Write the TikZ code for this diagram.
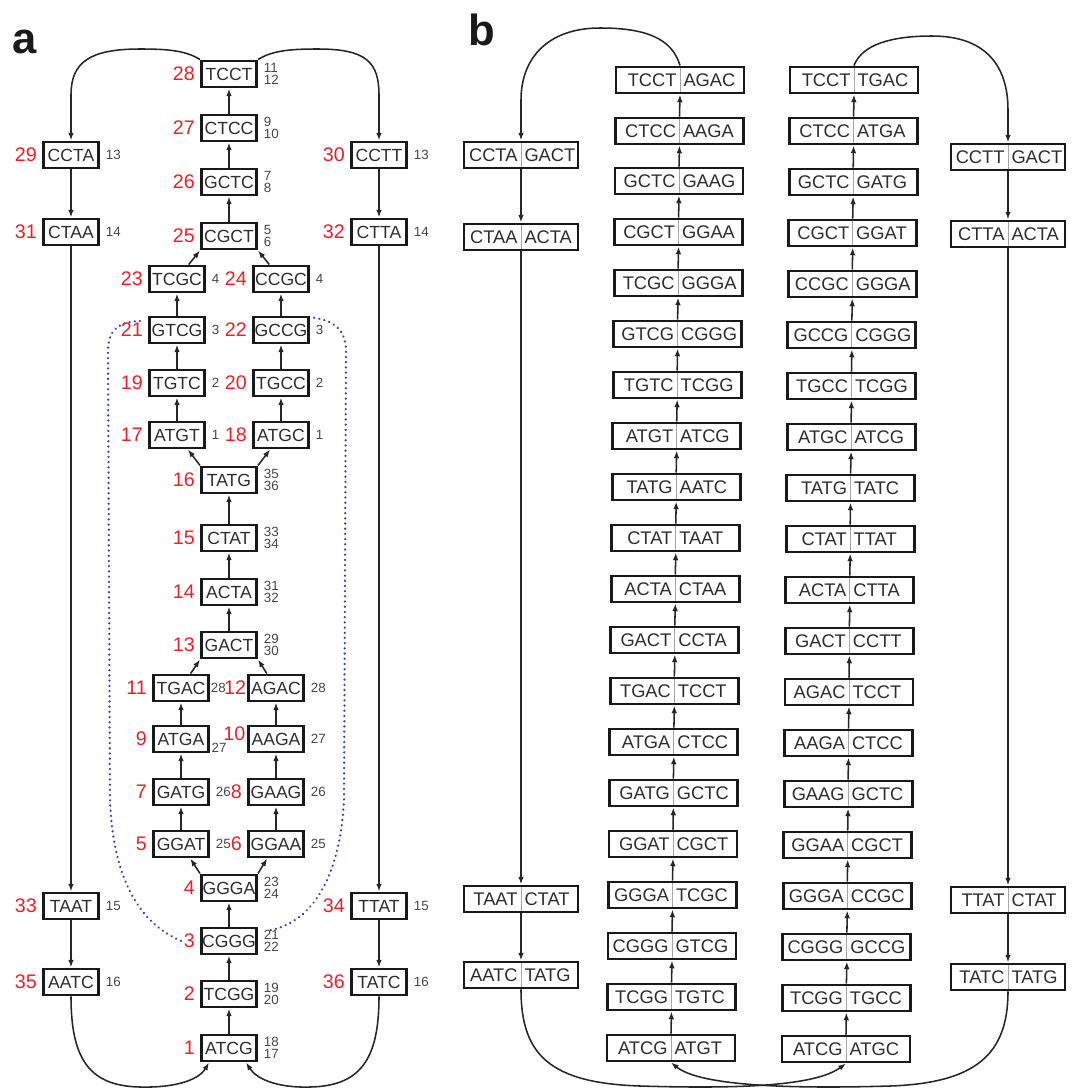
\documentclass[tikz,border=0pt]{standalone}
\usepackage{fontspec}
\setmainfont{Liberation Sans}
\usetikzlibrary{arrows.meta,calc}
\definecolor{numred}{RGB}{236,32,40}
\definecolor{numgray}{RGB}{70,70,70}
\definecolor{dotblue}{RGB}{60,60,190}
\definecolor{boxtext}{RGB}{45,45,45}
\newcommand{\kmer}[2]{\llap{#1\kern2.5pt}\rlap{\kern2.5pt#2}}
\tikzset{
    kbox/.style={rectangle, draw=black!90, line width=2.1pt, fill=white, text=boxtext, minimum width=1.375cm, minimum height=0.65cm, inner sep=0pt, font=\fontsize{12.5}{14}\selectfont},
    pairbox/.style={kbox, font=\fontsize{13}{15}\selectfont, path picture={\draw[gray!70, line width=0.6pt] (path picture bounding box.north) -- (path picture bounding box.south);}},
    link/.style={-{Latex[length=5.5pt,width=4pt]}, line width=1.1pt, black!85},
    rnum/.style={text=numred, font=\fontsize{14}{16}\selectfont, inner sep=3.5pt},
    gnum/.style={text=numgray, font=\fontsize{9.5}{8.5}\selectfont, inner sep=4pt, align=left}
}

\begin{document}
\begin{tikzpicture}[
    x=0.025cm, y=-0.025cm,
    panel/.style={font=\fontsize{31}{31}\selectfont\bfseries, inner sep=0pt, anchor=base west, text=black!90},
    outer/.style={pairbox, minimum width=2.85cm},
    inner/.style={pairbox, minimum width=3.2cm},
    boundary/.style={dotblue, line width=1.7pt, dash pattern=on 0.1pt off 3.6pt, line cap=round}
]
    \useasboundingbox (0,0) rectangle (1073,1088);

    % Panel labels
    \node[panel] (PA) at (12,53) {a};
    \node[panel] (PB) at (468,45) {b};

    % Panel a: bubble region
    \draw[boundary] (140,321) .. controls (118,322) and (108,330) .. (108,352) -- (110,800) .. controls (113,880) and (140,925) .. (184,942);
    \draw[boundary] (309,317) .. controls (335,320) and (346,330) .. (346,352) -- (344,800) .. controls (340,880) and (310,925) .. (266,931);

    % Panel a: central column
    \node[kbox, label={[rnum]left:1}, label={[gnum]right:{18\\17}}] (A1) at (229,1048) {ATCG};
    \node[kbox, label={[rnum]left:2}, label={[gnum]right:{19\\20}}] (A2) at (229,994) {TCGG};
    \node[kbox, label={[rnum]left:3}, label={[gnum]right:{21\\22}}] (A3) at (229,941) {CGGG};
    \node[kbox, label={[rnum]left:4}, label={[gnum]right:{23\\24}}] (A4) at (229,888) {GGGA};
    \node[kbox, label={[rnum]left:13}, label={[gnum]right:{29\\30}}] (A13) at (229,645) {GACT};
    \node[kbox, label={[rnum]left:14}, label={[gnum]right:{31\\32}}] (A14) at (229,592) {ACTA};
    \node[kbox, label={[rnum]left:15}, label={[gnum]right:{33\\34}}] (A15) at (229,538) {CTAT};
    \node[kbox, label={[rnum]left:16}, label={[gnum]right:{35\\36}}] (A16) at (229,480) {TATG};
    \node[kbox, label={[rnum]left:25}, label={[gnum]right:{5\\6}}] (A25) at (229,236) {CGCT};
    \node[kbox, label={[rnum]left:26}, label={[gnum]right:{7\\8}}] (A26) at (229,182) {GCTC};
    \node[kbox, label={[rnum]left:27}, label={[gnum]right:{9\\10}}] (A27) at (229,128) {CTCC};
    \node[kbox, label={[rnum]left:28}, label={[gnum]right:{11\\12}}] (A28) at (229,74) {TCCT};

    % Panel a: lower bubble
    \node[kbox, label={[rnum]left:5}, label={[gnum]right:25}] (A5) at (181,844) {GGAT};
    \node[kbox, label={[rnum]left:6}, label={[gnum]right:25}] (A6) at (276,844) {GGAA};
    \node[kbox, label={[rnum]left:7}, label={[gnum]right:26}] (A7) at (181,792) {GATG};
    \node[kbox, label={[rnum]left:8}, label={[gnum]right:26}] (A8) at (276,792) {GAAG};
    \node[kbox, label={[rnum]left:9}, label={[gnum, inner sep=1pt, yshift=-6pt]right:27}] (A9) at (181,739) {ATGA};
    \node[kbox, label={[rnum, inner sep=1pt, yshift=4pt]left:10}, label={[gnum]right:27}] (A10) at (276,739) {AAGA};
    \node[kbox, label={[rnum]left:11}, label={[gnum, inner sep=0.5pt]right:28}] (A11) at (181,688) {TGAC};
    \node[kbox, label={[rnum, inner sep=0.5pt]left:12}, label={[gnum]right:28}] (A12) at (276,688) {AGAC};

    % Panel a: upper bubble
    \node[kbox, label={[rnum]left:17}, label={[gnum]right:1}] (A17) at (177,435) {ATGT};
    \node[kbox, label={[rnum]left:18}, label={[gnum]right:1}] (A18) at (281,435) {ATGC};
    \node[kbox, label={[rnum]left:19}, label={[gnum]right:2}] (A19) at (177,383) {TGTC};
    \node[kbox, label={[rnum]left:20}, label={[gnum]right:2}] (A20) at (281,383) {TGCC};
    \node[kbox, label={[rnum]left:21}, label={[gnum]right:3}] (A21) at (177,330) {GTCG};
    \node[kbox, label={[rnum]left:22}, label={[gnum]right:3}] (A22) at (281,330) {GCCG};
    \node[kbox, label={[rnum]left:23}, label={[gnum]right:4}] (A23) at (177,279) {TCGC};
    \node[kbox, label={[rnum]left:24}, label={[gnum]right:4}] (A24) at (281,279) {CCGC};

    % Panel a: outer columns
    \node[kbox, label={[rnum]left:29}, label={[gnum]right:13}] (A29) at (71,155) {CCTA};
    \node[kbox, label={[rnum]left:31}, label={[gnum]right:14}] (A31) at (71,232) {CTAA};
    \node[kbox, label={[rnum]left:33}, label={[gnum]right:15}] (A33) at (71,906) {TAAT};
    \node[kbox, label={[rnum]left:35}, label={[gnum]right:16}] (A35) at (71,982) {AATC};
    \node[kbox, label={[rnum]left:30}, label={[gnum]right:13}] (A30) at (379,155) {CCTT};
    \node[kbox, label={[rnum]left:32}, label={[gnum]right:14}] (A32) at (379,232) {CTTA};
    \node[kbox, label={[rnum]left:34}, label={[gnum]right:15}] (A34) at (379,906) {TTAT};
    \node[kbox, label={[rnum]left:36}, label={[gnum]right:16}] (A36) at (379,982) {TATC};

    % Panel a: edges
    \draw[link] (A1) -- (A2);
    \draw[link] (A2) -- (A3);
    \draw[link] (A3) -- (A4);
    \draw[link] (A4.north west) -- (A5);
    \draw[link] (A4.north east) -- (A6);
    \draw[link] (A5) -- (A7);
    \draw[link] (A7) -- (A9);
    \draw[link] (A9) -- (A11);
    \draw[link] (A6) -- (A8);
    \draw[link] (A8) -- (A10);
    \draw[link] (A10) -- (A12);
    \draw[link] (A11) -- (A13.south west);
    \draw[link] (A12) -- (A13.south east);
    \draw[link] (A13) -- (A14);
    \draw[link] (A14) -- (A15);
    \draw[link] (A15) -- (A16);
    \draw[link] (A16.north west) -- (A17);
    \draw[link] (A16.north east) -- (A18);
    \draw[link] (A17) -- (A19);
    \draw[link] (A19) -- (A21);
    \draw[link] (A21) -- (A23);
    \draw[link] (A18) -- (A20);
    \draw[link] (A20) -- (A22);
    \draw[link] (A22) -- (A24);
    \draw[link] (A23) -- (A25.south west);
    \draw[link] (A24) -- (A25.south east);
    \draw[link] (A25) -- (A26);
    \draw[link] (A26) -- (A27);
    \draw[link] (A27) -- (A28);
    \draw[link] (A28.north west) .. controls (185,50) and (165,49) .. (140,49) .. controls (90,49) and (71,62) .. (71,95) -- (A29);
    \draw[link] (A28.north east) .. controls (273,50) and (293,49) .. (318,49) .. controls (366,49) and (379,62) .. (379,95) -- (A30);
    \draw[link] (A29) -- (A31);
    \draw[link] (A31) -- (A33);
    \draw[link] (A33) -- (A35);
    \draw[link] (A30) -- (A32);
    \draw[link] (A32) -- (A34);
    \draw[link] (A34) -- (A36);
    \draw[link] (A35.south) .. controls (71,1060) and (90,1086) .. (140,1087) .. controls (180,1088) and (200,1078) .. ($(A1.south west)+(9,0)$);
    \draw[link] (A36.south) .. controls (379,1060) and (360,1086) .. (310,1087) .. controls (275,1088) and (256,1078) .. ($(A1.south east)+(-12,0)$);

    % Panel b: left inner column
    \node[inner] (L20) at (680,80) {\kmer{TCCT}{AGAC}};
    \node[inner] (L19) at (679.5,131) {\kmer{CTCC}{AAGA}};
    \node[inner] (L18) at (679,181) {\kmer{GCTC}{GAAG}};
    \node[inner] (L17) at (678.6,232) {\kmer{CGCT}{GGAA}};
    \node[inner] (L16) at (678.1,283) {\kmer{TCGC}{GGGA}};
    \node[inner] (L15) at (677.6,334) {\kmer{GTCG}{CGGG}};
    \node[inner] (L14) at (677.2,385) {\kmer{TGTC}{TCGG}};
    \node[inner] (L13) at (676.7,436) {\kmer{ATGT}{ATCG}};
    \node[inner] (L12) at (676.2,487) {\kmer{TATG}{AATC}};
    \node[inner] (L11) at (675.8,538) {\kmer{CTAT}{TAAT}};
    \node[inner] (L10) at (675.3,589) {\kmer{ACTA}{CTAA}};
    \node[inner] (L9) at (674.8,640) {\kmer{GACT}{CCTA}};
    \node[inner] (L8) at (674.4,691) {\kmer{TGAC}{TCCT}};
    \node[inner] (L7) at (673.9,742) {\kmer{ATGA}{CTCC}};
    \node[inner] (L6) at (673.4,793) {\kmer{GATG}{GCTC}};
    \node[inner] (L5) at (673,844) {\kmer{GGAT}{CGCT}};
    \node[inner] (L4) at (672.5,895) {\kmer{GGGA}{TCGC}};
    \node[inner] (L3) at (672,946) {\kmer{CGGG}{GTCG}};
    \node[inner] (L2) at (671.5,997) {\kmer{TCGG}{TGTC}};
    \node[inner] (L1) at (671,1048) {\kmer{ATCG}{ATGT}};

    % Panel b: right inner column
    \node[inner] (R20) at (854,80) {\kmer{TCCT}{TGAC}};
    \node[inner] (R19) at (853.6,131) {\kmer{CTCC}{ATGA}};
    \node[inner] (R18) at (853.2,182) {\kmer{GCTC}{GATG}};
    \node[inner] (R17) at (852.7,233) {\kmer{CGCT}{GGAT}};
    \node[inner] (R16) at (852.3,284) {\kmer{CCGC}{GGGA}};
    \node[inner] (R15) at (851.9,335) {\kmer{GCCG}{CGGG}};
    \node[inner] (R14) at (851.5,386) {\kmer{TGCC}{TCGG}};
    \node[inner] (R13) at (851.1,437) {\kmer{ATGC}{ATCG}};
    \node[inner] (R12) at (850.6,488) {\kmer{TATG}{TATC}};
    \node[inner] (R11) at (850.2,539) {\kmer{CTAT}{TTAT}};
    \node[inner] (R10) at (849.8,590) {\kmer{ACTA}{CTTA}};
    \node[inner] (R9) at (849.4,641) {\kmer{GACT}{CCTT}};
    \node[inner] (R8) at (849,692) {\kmer{AGAC}{TCCT}};
    \node[inner] (R7) at (848.5,743) {\kmer{AAGA}{CTCC}};
    \node[inner] (R6) at (848.1,794) {\kmer{GAAG}{GCTC}};
    \node[inner] (R5) at (847.7,845) {\kmer{GGAA}{CGCT}};
    \node[inner] (R4) at (847.3,896) {\kmer{GGGA}{CCGC}};
    \node[inner] (R3) at (846.9,947) {\kmer{CGGG}{GCCG}};
    \node[inner] (R2) at (846.4,998) {\kmer{TCGG}{TGCC}};
    \node[inner] (R1) at (846,1049) {\kmer{ATCG}{ATGC}};

    % Panel b: outer columns
    \node[outer] (OL1) at (521,155) {\kmer{CCTA}{GACT}};
    \node[outer] (OL2) at (521,237) {\kmer{CTAA}{ACTA}};
    \node[outer] (OL3) at (521,899) {\kmer{TAAT}{CTAT}};
    \node[outer] (OL4) at (521,975) {\kmer{AATC}{TATG}};
    \node[outer] (OR1) at (1008,157) {\kmer{CCTT}{GACT}};
    \node[outer] (OR2) at (1008,234) {\kmer{CTTA}{ACTA}};
    \node[outer] (OR3) at (1008,900) {\kmer{TTAT}{CTAT}};
    \node[outer] (OR4) at (1008,977) {\kmer{TATC}{TATG}};

    % Panel b: edges
    \draw[link] (L1.north) -- (L2.south);
    \draw[link] (L2.north) -- (L3.south);
    \draw[link] (L3.north) -- (L4.south);
    \draw[link] (L4.north) -- (L5.south);
    \draw[link] (L5.north) -- (L6.south);
    \draw[link] (L6.north) -- (L7.south);
    \draw[link] (L7.north) -- (L8.south);
    \draw[link] (L8.north) -- (L9.south);
    \draw[link] (L9.north) -- (L10.south);
    \draw[link] (L10.north) -- (L11.south);
    \draw[link] (L11.north) -- (L12.south);
    \draw[link] (L12.north) -- (L13.south);
    \draw[link] (L13.north) -- (L14.south);
    \draw[link] (L14.north) -- (L15.south);
    \draw[link] (L15.north) -- (L16.south);
    \draw[link] (L16.north) -- (L17.south);
    \draw[link] (L17.north) -- (L18.south);
    \draw[link] (L18.north) -- (L19.south);
    \draw[link] (L19.north) -- (L20.south);
    \draw[link] (R1.north) -- (R2.south);
    \draw[link] (R2.north) -- (R3.south);
    \draw[link] (R3.north) -- (R4.south);
    \draw[link] (R4.north) -- (R5.south);
    \draw[link] (R5.north) -- (R6.south);
    \draw[link] (R6.north) -- (R7.south);
    \draw[link] (R7.north) -- (R8.south);
    \draw[link] (R8.north) -- (R9.south);
    \draw[link] (R9.north) -- (R10.south);
    \draw[link] (R10.north) -- (R11.south);
    \draw[link] (R11.north) -- (R12.south);
    \draw[link] (R12.north) -- (R13.south);
    \draw[link] (R13.north) -- (R14.south);
    \draw[link] (R14.north) -- (R15.south);
    \draw[link] (R15.north) -- (R16.south);
    \draw[link] (R16.north) -- (R17.south);
    \draw[link] (R17.north) -- (R18.south);
    \draw[link] (R18.north) -- (R19.south);
    \draw[link] (R19.north) -- (R20.south);
    \draw[link] (OL1.south) -- (OL2.north);
    \draw[link] (OL2.south) -- (OL3.north);
    \draw[link] (OL3.south) -- (OL4.north);
    \draw[link] (OR1.south) -- (OR2.north);
    \draw[link] (OR2.south) -- (OR3.north);
    \draw[link] (OR3.south) -- (OR4.north);
    \draw[link] (L20.north) .. controls (672,38) and (645,28) .. (600,28) .. controls (548,28) and (521,58) .. (521,100) -- (OL1.north);
    \draw[link] (R20.north) .. controls (862,45) and (890,36) .. (932,36) .. controls (985,36) and (1008,65) .. (1008,110) -- (OR1.north);
    \draw[link] (OL4.south) .. controls (521,1055) and (550,1083) .. (640,1086) .. controls (740,1089) and (815,1086) .. (R1.south);
    \draw[link] (OR4.south) .. controls (1008,1055) and (975,1083) .. (890,1086) .. controls (790,1089) and (700,1086) .. (L1.south);
\end{tikzpicture}
\end{document}
